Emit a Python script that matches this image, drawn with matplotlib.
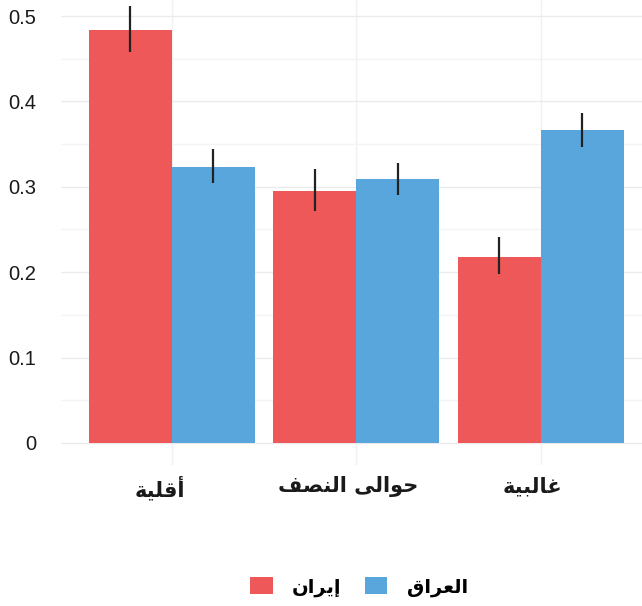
import matplotlib
matplotlib.use("Agg")
import matplotlib.pyplot as plt
from matplotlib.patches import Patch
from matplotlib.ticker import MultipleLocator
from matplotlib.transforms import ScaledTranslation
import numpy as np

# ---- data ----
categories = ["أقلية", "حوالى النصف", "غالبية"]
series_names = ["إيران", "العراق"]
iran_values = [0.484, 0.295, 0.218]
iran_low = [0.4575, 0.2717, 0.1975]
iran_high = [0.5117, 0.3205, 0.2416]
iraq_values = [0.323, 0.309, 0.366]
iraq_low = [0.3041, 0.2904, 0.3466]
iraq_high = [0.3439, 0.3282, 0.3864]
y_ticks = [0, 0.1, 0.2, 0.3, 0.4, 0.5]
y_tick_labels = ["0", "0.1", "0.2", "0.3", "0.4", "0.5"]

# ---- minimal Arabic shaping (matplotlib has no complex text layout) ----
FORMS = {
    '\u0623': ('\uFE83', '\uFE84', None, None),
    '\u0625': ('\uFE87', '\uFE88', None, None),
    '\u0627': ('\uFE8D', '\uFE8E', None, None),
    '\u0628': ('\uFE8F', '\uFE90', '\uFE91', '\uFE92'),
    '\u0629': ('\uFE93', '\uFE94', None, None),
    '\u062D': ('\uFEA1', '\uFEA2', '\uFEA3', '\uFEA4'),
    '\u0631': ('\uFEAD', '\uFEAE', None, None),
    '\u0635': ('\uFEB9', '\uFEBA', '\uFEBB', '\uFEBC'),
    '\u0639': ('\uFEC9', '\uFECA', '\uFECB', '\uFECC'),
    '\u063A': ('\uFECD', '\uFECE', '\uFECF', '\uFED0'),
    '\u0641': ('\uFED1', '\uFED2', '\uFED3', '\uFED4'),
    '\u0642': ('\uFED5', '\uFED6', '\uFED7', '\uFED8'),
    '\u0644': ('\uFEDD', '\uFEDE', '\uFEDF', '\uFEE0'),
    '\u0646': ('\uFEE5', '\uFEE6', '\uFEE7', '\uFEE8'),
    '\u0648': ('\uFEED', '\uFEEE', None, None),
    '\u0649': ('\uFEEF', '\uFEF0', None, None),
    '\u064A': ('\uFEF1', '\uFEF2', '\uFEF3', '\uFEF4'),
}
LAM_ALEF = {'\u0627': ('\uFEFB', '\uFEFC', None, None),
            '\u0623': ('\uFEF7', '\uFEF8', None, None),
            '\u0625': ('\uFEF9', '\uFEFA', None, None)}


def shape(text):
    toks = []
    i = 0
    while i < len(text):
        c = text[i]
        if c == '\u0644' and i + 1 < len(text) and text[i + 1] in LAM_ALEF:
            toks.append(LAM_ALEF[text[i + 1]])
            i += 2
            continue
        toks.append(FORMS.get(c, c))
        i += 1
    out = []
    for k, t in enumerate(toks):
        if isinstance(t, str):
            out.append(t)
            continue
        prev = toks[k - 1] if k > 0 else None
        nxt = toks[k + 1] if k + 1 < len(toks) else None
        pj = isinstance(prev, tuple) and prev[2] is not None
        nj = isinstance(nxt, tuple) and t[2] is not None
        if pj and nj:
            out.append(t[3])
        elif pj:
            out.append(t[1])
        elif nj:
            out.append(t[2])
        else:
            out.append(t[0])
    return "".join(reversed(out))


RED = "#EE5858"
BLUE = "#58A6DC"

fig = plt.figure(figsize=(6.42, 6.06), dpi=100)
W, H = 642, 606
left_px, right_px, top_px, bottom_px = 61, 642, 0, 465
ax = fig.add_axes([left_px / W, 1 - bottom_px / H,
                   (right_px - left_px) / W, (bottom_px - top_px) / H])

x = np.arange(1, len(categories) + 1)
bw = 0.45
ax.bar(x - bw / 2, iran_values, width=bw, color=RED, zorder=2)
ax.bar(x + bw / 2, iraq_values, width=bw, color=BLUE, zorder=2)
ax.vlines(x - bw / 2, iran_low, iran_high, color="#222222", lw=1.6, zorder=3)
ax.vlines(x + bw / 2, iraq_low, iraq_high, color="#222222", lw=1.6, zorder=3)

# axis ranges (left edge at 0.4 as ggplot expansion; right side cropped)
unit = 184.5
ax.set_xlim(0.4, 0.4 + (right_px - left_px) / unit)
zero_px = 443
ppu = 854.0
ax.set_ylim(-(bottom_px - zero_px) / ppu, (zero_px - top_px) / ppu)

ax.set_yticks(y_ticks)
ax.set_yticklabels(y_tick_labels, fontfamily="Liberation Sans", fontsize=14.5,
                   color="#1a1a1a")
ax.yaxis.set_minor_locator(MultipleLocator(0.05))
ax.set_xticks(x)
ax.set_xticklabels([shape(c) for c in categories], fontfamily="DejaVu Sans",
                   fontsize=15, fontweight="bold", color="#1a1a1a")
ax.tick_params(axis="y", which="both", length=0, pad=18)
ax.tick_params(axis="x", which="both", length=0, pad=8)
shifts_px = [-12, -8, -8]
for lbl, s in zip(ax.get_xticklabels(), shifts_px):
    lbl.set_transform(lbl.get_transform() +
                      ScaledTranslation(s / 100.0, 0, fig.dpi_scale_trans))

ax.grid(True, axis="y", which="major", color="#EBEBEB", lw=1.0, zorder=0)
ax.grid(True, axis="y", which="minor", color="#F4F4F4", lw=1.0, zorder=0)
ax.grid(True, axis="x", which="major", color="#F0F0F0", lw=1.0, zorder=0)
for s in ax.spines.values():
    s.set_visible(False)
ax.set_axisbelow(True)

handles = [Patch(facecolor=RED, edgecolor="none"),
           Patch(facecolor=BLUE, edgecolor="none")]
fig.legend(handles, [shape(s) for s in series_names], loc="center",
           bbox_to_anchor=(359 / W, 1 - 587 / H), ncol=2, frameon=False,
           prop={"family": "DejaVu Sans", "size": 14, "weight": "bold"},
           handlelength=1.15, handleheight=0.95, handletextpad=1.0,
           columnspacing=1.2)

fig.savefig("out.png", dpi=100, facecolor="white")
